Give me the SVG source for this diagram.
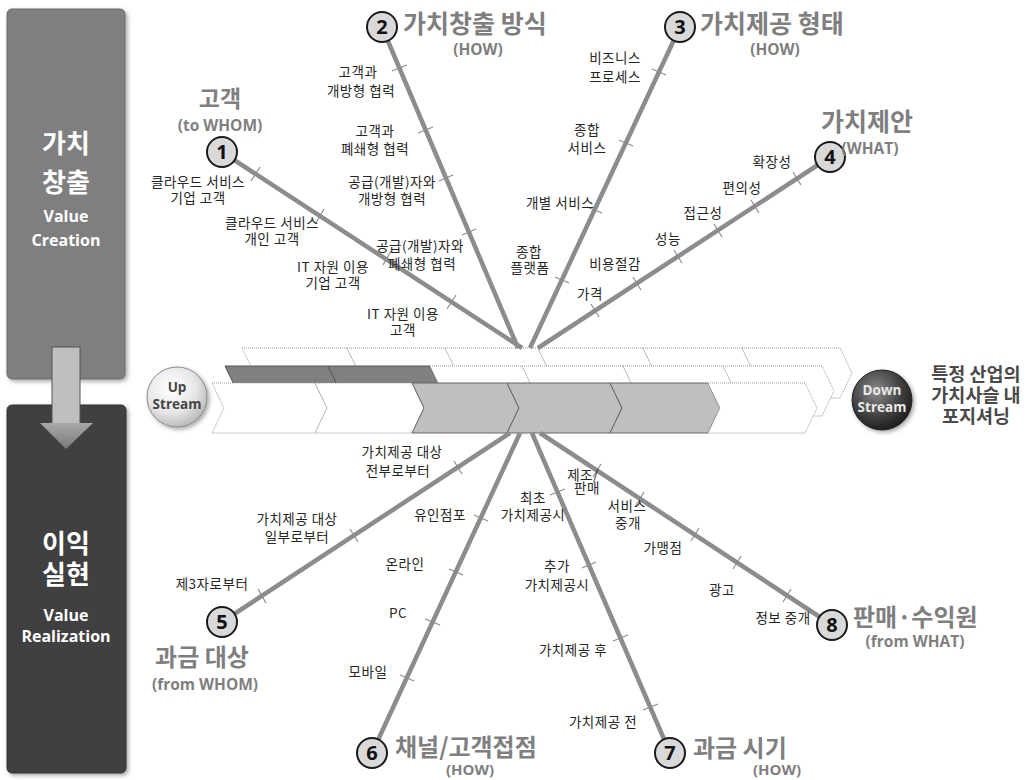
<svg xmlns="http://www.w3.org/2000/svg" width="1030" height="780" viewBox="0 0 1030 780">
<defs>
<style>
.lbl{font-family:"Noto Sans CJK KR","Noto Sans",sans-serif;font-size:13.5px;letter-spacing:0.5px;fill:#262626;text-anchor:middle}
.ttl{font-family:"Noto Sans CJK KR","Noto Sans",sans-serif;font-size:24px;font-weight:bold;fill:#7f7f7f}
.sub{font-family:"Open Sans","Noto Sans",sans-serif;font-size:15.5px;font-weight:bold;fill:#7f7f7f;text-anchor:middle}
.num{font-family:"Open Sans","Noto Sans",sans-serif;font-size:20px;font-weight:bold;fill:#111;text-anchor:middle}
.circ{fill:#d9d9d9;stroke:#1a1a1a;stroke-width:2}
.ray{stroke:#8c8c8c;stroke-width:4.5;fill:none}
.tick{stroke:#8c8c8c;stroke-width:1.2}
.pk{font-family:"Noto Sans CJK KR","Noto Sans",sans-serif;font-size:26px;font-weight:bold;fill:#fff;text-anchor:middle}
.pe{font-family:"Open Sans","Noto Sans",sans-serif;font-size:16px;font-weight:bold;fill:#fff;text-anchor:middle}
.seg{fill:#fff;stroke:#9a9a9a;stroke-width:1;stroke-dasharray:1 1}
.segd{fill:#808080;stroke:#555;stroke-width:1}
.segg{fill:#bfbfbf;stroke:#666;stroke-width:1}
.sph{font-family:"Open Sans","Noto Sans",sans-serif;font-size:13.5px;font-weight:bold;text-anchor:middle}
.pos{font-family:"Noto Sans CJK KR","Noto Sans",sans-serif;font-size:18.5px;font-weight:bold;fill:#4a4a4a;text-anchor:middle}
</style>
<filter id="sh" x="-20%" y="-20%" width="140%" height="140%"><feDropShadow dx="2" dy="2" stdDeviation="2" flood-color="#000" flood-opacity="0.35"/></filter>
<radialGradient id="gUp" cx="40%" cy="35%" r="70%"><stop offset="0" stop-color="#ffffff"/><stop offset="0.6" stop-color="#e6e6e6"/><stop offset="1" stop-color="#b5b5b5"/></radialGradient>
<radialGradient id="gDn" cx="40%" cy="35%" r="70%"><stop offset="0" stop-color="#8a8a8a"/><stop offset="0.6" stop-color="#404040"/><stop offset="1" stop-color="#1a1a1a"/></radialGradient>
<linearGradient id="gAr" x1="0" y1="0" x2="0" y2="1"><stop offset="0" stop-color="#a8a8a8"/><stop offset="1" stop-color="#7a7a7a"/></linearGradient>
</defs>

<g id="panel-creation">
<rect x="7" y="9" width="118" height="370" rx="5" fill="#7f7f7f" stroke="#6a6a6a" filter="url(#sh)"/>
<text class="pk" x="66" y="153">가치</text>
<text class="pk" x="66" y="192">창출</text>
<text class="pe" x="66" y="222">Value</text>
<text class="pe" x="66" y="246">Creation</text>
</g>
<g id="panel-realization">
<rect x="7" y="405" width="119" height="368" rx="5" fill="#404040" stroke="#333" filter="url(#sh)"/>
<text class="pk" x="66" y="553">이익</text>
<text class="pk" x="66" y="584">실현</text>
<text class="pe" x="66" y="621">Value</text>
<text class="pe" x="66" y="642">Realization</text>
</g>
<g id="flow-arrow">
<rect x="52" y="347" width="28" height="77" fill="#bfbfbf" stroke="#555" stroke-width="1"/>
<polygon points="40,423 93,423 66,449" fill="url(#gAr)"/>
</g>

<g id="value-chain">
<polygon class="seg" points="242,348 347,348 359,373 347,398 242,398 254,373"/>
<polygon class="seg" points="347,348 445,348 457,373 445,398 347,398 359,373"/>
<polygon class="seg" points="445,348 538,348 550,373 538,398 445,398 457,373"/>
<polygon class="seg" points="538,348 643,348 655,373 643,398 538,398 550,373"/>
<polygon class="seg" points="643,348 742,348 754,373 742,398 643,398 655,373"/>
<polygon class="seg" points="742,348 840,348 852,373 840,398 742,398 754,373"/>
<polygon class="segd" points="225,366 328,366 340,391 328,416 225,416 237,391"/>
<polygon class="segd" points="328,366 430,366 442,391 430,416 328,416 340,391"/>
<polygon class="seg" points="430,366 522,366 534,391 522,416 430,416 442,391"/>
<polygon class="seg" points="522,366 623,366 635,391 623,416 522,416 534,391"/>
<polygon class="seg" points="623,366 723,366 735,391 723,416 623,416 635,391"/>
<polygon class="seg" points="723,366 822,366 834,391 822,416 723,416 735,391"/>
<polygon class="seg" points="212,383 315,383 327,408 315,433 212,433 224,408"/>
<polygon class="seg" points="315,383 412,383 424,408 412,433 315,433 327,408"/>
<polygon class="segg" points="412,383 507,383 519,408 507,433 412,433 424,408"/>
<polygon class="segg" points="507,383 610,383 622,408 610,433 507,433 519,408"/>
<polygon class="segg" points="610,383 708,383 720,408 708,433 610,433 622,408"/>
<polygon class="seg" points="708,383 805,383 817,408 805,433 708,433 720,408"/>
</g>

<g id="upstream">
<circle cx="177" cy="397" r="30" fill="url(#gUp)" stroke="#8a8a8a" stroke-width="1" filter="url(#sh)"/>
<text class="sph" x="177" y="392" fill="#444">Up</text>
<text class="sph" x="177" y="409" fill="#444">Stream</text>
</g>
<g id="downstream">
<circle cx="882" cy="400" r="30" fill="url(#gDn)" stroke="#222" stroke-width="1" filter="url(#sh)"/>
<text class="sph" x="882" y="395" fill="#e8e8e8">Down</text>
<text class="sph" x="882" y="412" fill="#e8e8e8">Stream</text>
</g>
<g id="positioning-label">
<text class="pos" x="976" y="381">특정 산업의</text>
<text class="pos" x="976" y="402">가치사슬 내</text>
<text class="pos" x="976" y="423">포지셔닝</text>
</g>

<g id="connectors">
<line class="ray" x1="222" y1="152" x2="522" y2="348"/>
<line class="ray" x1="382" y1="27" x2="518" y2="348"/>
<line class="ray" x1="680" y1="27" x2="530" y2="348"/>
<line class="ray" x1="830" y1="157" x2="538" y2="348"/>
<line class="ray" x1="222" y1="622" x2="510" y2="433"/>
<line class="ray" x1="372" y1="753" x2="520" y2="433"/>
<line class="ray" x1="670" y1="753" x2="532" y2="433"/>
<line class="ray" x1="832" y1="625" x2="540" y2="433"/>
<line class="tick" x1="260" y1="167" x2="251" y2="181"/>
<line class="tick" x1="324" y1="209" x2="316" y2="223"/>
<line class="tick" x1="391" y1="251" x2="383" y2="265"/>
<line class="tick" x1="456" y1="295" x2="447" y2="309"/>
<line class="tick" x1="392" y1="71" x2="407" y2="65"/>
<line class="tick" x1="418" y1="133" x2="433" y2="127"/>
<line class="tick" x1="439" y1="181" x2="453" y2="175"/>
<line class="tick" x1="462" y1="235" x2="476" y2="229"/>
<line class="tick" x1="652" y1="69" x2="666" y2="75"/>
<line class="tick" x1="619" y1="140" x2="633" y2="146"/>
<line class="tick" x1="587" y1="207" x2="602" y2="213"/>
<line class="tick" x1="555" y1="277" x2="569" y2="283"/>
<line class="tick" x1="793" y1="172" x2="801" y2="185"/>
<line class="tick" x1="751" y1="200" x2="759" y2="213"/>
<line class="tick" x1="714" y1="224" x2="722" y2="237"/>
<line class="tick" x1="674" y1="250" x2="682" y2="263"/>
<line class="tick" x1="633" y1="277" x2="641" y2="290"/>
<line class="tick" x1="591" y1="304" x2="599" y2="317"/>
<line class="tick" x1="258" y1="589" x2="266" y2="603"/>
<line class="tick" x1="350" y1="529" x2="358" y2="542"/>
<line class="tick" x1="454" y1="461" x2="462" y2="474"/>
<line class="tick" x1="474" y1="515" x2="488" y2="521"/>
<line class="tick" x1="449" y1="569" x2="463" y2="575"/>
<line class="tick" x1="425" y1="619" x2="440" y2="625"/>
<line class="tick" x1="400" y1="675" x2="414" y2="681"/>
<line class="tick" x1="550" y1="495" x2="565" y2="489"/>
<line class="tick" x1="582" y1="568" x2="596" y2="562"/>
<line class="tick" x1="613" y1="641" x2="628" y2="635"/>
<line class="tick" x1="643" y1="710" x2="658" y2="704"/>
<line class="tick" x1="601" y1="464" x2="593" y2="477"/>
<line class="tick" x1="644" y1="492" x2="636" y2="505"/>
<line class="tick" x1="699" y1="528" x2="691" y2="541"/>
<line class="tick" x1="741" y1="556" x2="733" y2="569"/>
<line class="tick" x1="791" y1="589" x2="783" y2="602"/>
</g>

<g id="node1">
<circle class="circ" cx="222" cy="152" r="15"/><text class="num" x="222" y="159">1</text>
<text class="ttl" x="220" y="107" text-anchor="middle" style="font-size:23px">고객</text>
<text class="sub" x="220" y="131">(to WHOM)</text>
<text class="lbl" x="198" y="187">클라우드 서비스</text><text class="lbl" x="198" y="203">기업 고객</text>
<text class="lbl" x="272" y="228">클라우드 서비스</text><text class="lbl" x="272" y="244">개인 고객</text>
<text class="lbl" x="333" y="272">IT 자원 이용</text><text class="lbl" x="333" y="288">기업 고객</text>
<text class="lbl" x="403" y="319">IT 자원 이용</text><text class="lbl" x="403" y="335">고객</text>
</g>
<g id="node2">
<circle class="circ" cx="382" cy="27" r="15"/><text class="num" x="382" y="34">2</text>
<text class="ttl" x="403" y="33" style="font-size:25px">가치창출 방식</text>
<text class="sub" x="478" y="55">(HOW)</text>
<text class="lbl" x="358" y="77">고객과</text><text class="lbl" x="361" y="96">개방형 협력</text>
<text class="lbl" x="375" y="136">고객과</text><text class="lbl" x="375" y="154">폐쇄형 협력</text>
<text class="lbl" x="392" y="187">공급(개발)자와</text><text class="lbl" x="392" y="204">개방형 협력</text>
<text class="lbl" x="420" y="251">공급(개발)자와</text><text class="lbl" x="422" y="269">폐쇄형 협력</text>
</g>
<g id="node3">
<circle class="circ" cx="680" cy="27" r="15"/><text class="num" x="680" y="34">3</text>
<text class="ttl" x="700" y="33" style="font-size:25px">가치제공 형태</text>
<text class="sub" x="775" y="55">(HOW)</text>
<text class="lbl" x="615" y="63">비즈니스</text><text class="lbl" x="615" y="82">프로세스</text>
<text class="lbl" x="587" y="135">종합</text><text class="lbl" x="587" y="153">서비스</text>
<text class="lbl" x="560" y="208">개별 서비스</text>
<text class="lbl" x="529" y="257">종합</text><text class="lbl" x="530" y="273">플랫폼</text>
</g>
<g id="node4">
<circle class="circ" cx="830" cy="157" r="15"/><text class="num" x="830" y="164">4</text>
<text class="ttl" x="821" y="131" style="font-size:25px">가치제안</text>
<text class="sub" x="870" y="154">(WHAT)</text>
<text class="lbl" x="772" y="167">확장성</text>
<text class="lbl" x="742" y="193">편의성</text>
<text class="lbl" x="703" y="218">접근성</text>
<text class="lbl" x="668" y="244">성능</text>
<text class="lbl" x="615" y="269">비용절감</text>
<text class="lbl" x="590" y="299">가격</text>
</g>
<g id="node5">
<circle class="circ" cx="222" cy="622" r="15"/><text class="num" x="222" y="629">5</text>
<text class="ttl" x="202" y="666" text-anchor="middle">과금 대상</text>
<text class="sub" x="205" y="690">(from WHOM)</text>
<text class="lbl" x="212" y="589">제3자로부터</text>
<text class="lbl" x="297" y="524">가치제공 대상</text><text class="lbl" x="297" y="542">일부로부터</text>
<text class="lbl" x="402" y="457">가치제공 대상</text><text class="lbl" x="398" y="476">전부로부터</text>
</g>
<g id="node6">
<circle class="circ" cx="372" cy="753" r="15"/><text class="num" x="372" y="760">6</text>
<text class="ttl" x="395" y="756">채널/고객접점</text>
<text class="sub" x="470" y="775" style="font-size:15px">(HOW)</text>
<text class="lbl" x="440" y="520">유인점포</text>
<text class="lbl" x="405" y="569">온라인</text>
<text class="lbl" x="398" y="618">PC</text>
<text class="lbl" x="368" y="677">모바일</text>
</g>
<g id="node7">
<circle class="circ" cx="670" cy="753" r="15"/><text class="num" x="670" y="760">7</text>
<text class="ttl" x="693" y="757">과금 시기</text>
<text class="sub" x="777" y="775" style="font-size:15px">(HOW)</text>
<text class="lbl" x="533" y="503">최초</text><text class="lbl" x="533" y="520">가치제공시</text>
<text class="lbl" x="557" y="571">추가</text><text class="lbl" x="557" y="590">가치제공시</text>
<text class="lbl" x="573" y="655">가치제공 후</text>
<text class="lbl" x="603" y="727">가치제공 전</text>
</g>
<g id="node8">
<circle class="circ" cx="832" cy="625" r="15"/><text class="num" x="832" y="632">8</text>
<text class="ttl" x="853" y="626">판매·수익원</text>
<text class="sub" x="915" y="647">(from WHAT)</text>
<text class="lbl" x="583" y="480">제조/</text><text class="lbl" x="587" y="493">판매</text>
<text class="lbl" x="627" y="511">서비스</text><text class="lbl" x="628" y="528">중개</text>
<text class="lbl" x="663" y="553">가맹점</text>
<text class="lbl" x="722" y="595">광고</text>
<text class="lbl" x="783" y="623">정보 중개</text>
</g>
</svg>
